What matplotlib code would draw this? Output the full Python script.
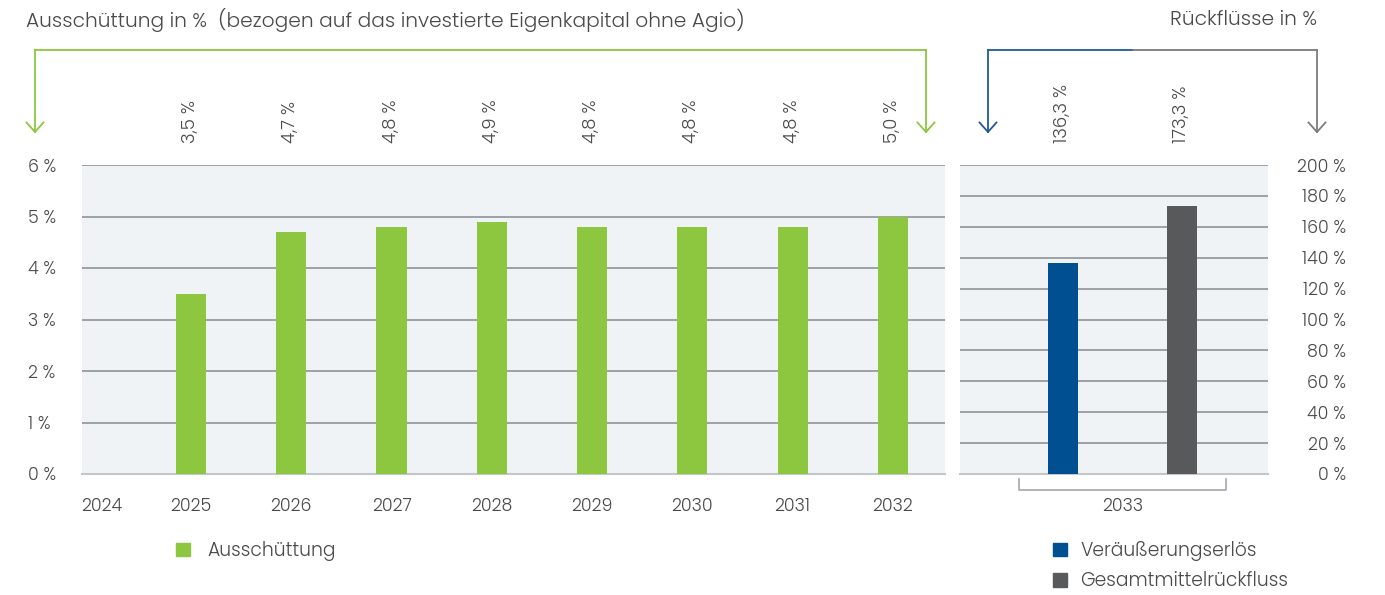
import matplotlib
matplotlib.use("Agg")
import matplotlib.pyplot as plt
from matplotlib.lines import Line2D
from matplotlib.patches import Patch
import matplotlib.transforms as mtrans

plt.rcParams['font.family'] = ['Poppins', 'Lato', 'DejaVu Sans']
plt.rcParams['font.weight'] = 300

# ---- data ----
years = ["2024", "2025", "2026", "2027", "2028", "2029", "2030", "2031", "2032"]
ausschuettung = [None, 3.5, 4.7, 4.8, 4.9, 4.8, 4.8, 4.8, 5.0]
left_ticks = [0, 1, 2, 3, 4, 5, 6]

rueck_labels = ["Veräußerungserlös", "Gesamtmittelrückfluss"]
rueck_values = [136.3, 173.3]
rueck_year = "2033"
right_ticks = [0, 20, 40, 60, 80, 100, 120, 140, 160, 180, 200]

GREEN = "#8dc63f"
BLUE = "#004f91"
DGRAY = "#58595b"
TXT = "#4a4a4a"
BG = "#eff3f6"
GRID = "#8e9398"

FS_TICK = 12.5
FS_VAL = 13
FS_TITLE = 14.5
FS_LEG = 13.5

W, H = 1385, 595
fig = plt.figure(figsize=(W / 100, H / 100), dpi=100)

def fx(x):
    return x / W

def fy(y):
    return 1 - y / H

def fmt(v):
    return f"{v:.1f}".replace(".", ",") + " %"

# ---- left axes ----
ax = fig.add_axes([fx(82), fy(474), fx(945 - 82), (474 - 165) / H])
ax.set_facecolor(BG)
xs = list(range(len(years)))
vals = [v if v is not None else 0 for v in ausschuettung]
ax.bar(xs, vals, width=0.3, color=GREEN, zorder=3)
ax.set_xlim(-0.087, 8.52)
ax.set_ylim(0, 6)
ax.set_yticks(left_ticks)
ax.set_yticklabels([f"{t} %" for t in left_ticks])
ax.set_xticks(xs)
ax.set_xticklabels(years)
for lab in ax.get_yticklabels():
    lab.set_horizontalalignment("left")
ax.tick_params(axis="y", length=0, pad=39, labelsize=FS_TICK, colors=TXT)
ax.tick_params(axis="x", length=0, pad=17, labelsize=FS_TICK, colors=TXT)
first = ax.get_xticklabels()[0]
first.set_transform(first.get_transform() + mtrans.ScaledTranslation(11 / 100, 0, fig.dpi_scale_trans))
ax.yaxis.grid(True, color=GRID, linewidth=1.2, zorder=1)
ax.set_axisbelow(True)
for s in ["top", "left", "right"]:
    ax.spines[s].set_visible(False)
ax.spines["bottom"].set_color("#c3c7cb")
ax.spines["bottom"].set_linewidth(1.5)

trans_l = mtrans.blended_transform_factory(ax.transData, ax.transAxes)
for x, v in zip(xs, ausschuettung):
    if v is None:
        continue
    ax.text(x, 1.071, fmt(v), transform=trans_l, rotation=90, ha="center",
            va="bottom", fontsize=FS_VAL, color=TXT, clip_on=False)

# ---- right axes ----
ax2 = fig.add_axes([fx(960), fy(474), fx(1268 - 960), (474 - 165) / H])
ax2.set_facecolor(BG)
cols = [BLUE, DGRAY]
ax2.bar([0, 1], rueck_values, width=0.252, color=cols, zorder=3)
ax2.set_xlim(-0.866, 1.723)
ax2.set_ylim(0, 200)
ax2.yaxis.tick_right()
ax2.set_yticks(right_ticks)
ax2.set_yticklabels([f"{t} %" for t in right_ticks])
for lab in ax2.get_yticklabels():
    lab.set_horizontalalignment("right")
ax2.tick_params(axis="y", length=0, pad=56, labelsize=FS_TICK, colors=TXT)
ax2.set_xticks([0.5])
ax2.set_xticklabels([rueck_year])
ax2.tick_params(axis="x", length=0, pad=17, labelsize=FS_TICK, colors=TXT)
ax2.yaxis.grid(True, color=GRID, linewidth=1.2, zorder=1)
ax2.set_axisbelow(True)
for s in ["top", "left", "right"]:
    ax2.spines[s].set_visible(False)
ax2.spines["bottom"].set_color("#c3c7cb")
ax2.spines["bottom"].set_linewidth(1.5)

trans_r = mtrans.blended_transform_factory(ax2.transData, ax2.transAxes)
for x, v in zip([0, 1], rueck_values):
    ax2.text(x, 1.071, fmt(v), transform=trans_r, rotation=90, ha="center",
             va="bottom", fontsize=FS_VAL, color=TXT, clip_on=False)

# bracket under 2033
BR = "#a3a7ab"
fig.add_artist(Line2D([fx(1019), fx(1019), fx(1226), fx(1226)],
                      [fy(479), fy(490), fy(490), fy(479)],
                      color=BR, linewidth=1.2, transform=fig.transFigure))

# ---- connector arrows ----
def vline_arrow(x, y0, y1, color):
    fig.add_artist(Line2D([fx(x), fx(x)], [fy(y0), fy(y1)], color=color,
                          linewidth=1.3, transform=fig.transFigure))
    fig.add_artist(Line2D([fx(x - 8.5), fx(x), fx(x + 8.5)],
                          [fy(y1 - 9.5), fy(y1), fy(y1 - 9.5)], color=color,
                          linewidth=1.3, transform=fig.transFigure))

def hline(x0, x1, y, color):
    fig.add_artist(Line2D([fx(x0), fx(x1)], [fy(y), fy(y)], color=color,
                          linewidth=1.3, transform=fig.transFigure))

GA = "#8dc63f"
hline(35, 926, 50, GA)
vline_arrow(35, 50, 132, GA)
vline_arrow(926, 50, 132, GA)

BA = "#1f5a9a"
GRA = "#7b7c7e"
hline(988, 1133, 50, BA)
hline(1133, 1317, 50, GRA)
vline_arrow(988, 50, 132, BA)
vline_arrow(1317, 50, 132, GRA)

# ---- titles ----
fig.text(fx(26), fy(20), "Ausschüttung in %  (bezogen auf das investierte Eigenkapital ohne Agio)",
         ha="left", va="center", fontsize=FS_TITLE, color=TXT)
fig.text(fx(1317), fy(20), "Rückflüsse in %", ha="right", va="center",
         fontsize=FS_TITLE, color=TXT)

# ---- legends ----
fig.legend(handles=[Patch(color=GREEN)], labels=["Ausschüttung"],
           loc="upper left", bbox_to_anchor=(fx(176), fy(541)),
           frameon=False, fontsize=FS_LEG, handlelength=0.75,
           handleheight=0.75, handletextpad=0.9, borderpad=0,
           borderaxespad=0, labelcolor=TXT)
fig.legend(handles=[Patch(color=BLUE), Patch(color=DGRAY)],
           labels=rueck_labels, loc="upper left",
           bbox_to_anchor=(fx(1053), fy(541)), frameon=False,
           fontsize=FS_LEG, handlelength=0.75, handleheight=0.75,
           handletextpad=0.7, borderpad=0, borderaxespad=0,
           labelspacing=0.55, labelcolor=TXT)

fig.savefig("out.png", dpi=100)
